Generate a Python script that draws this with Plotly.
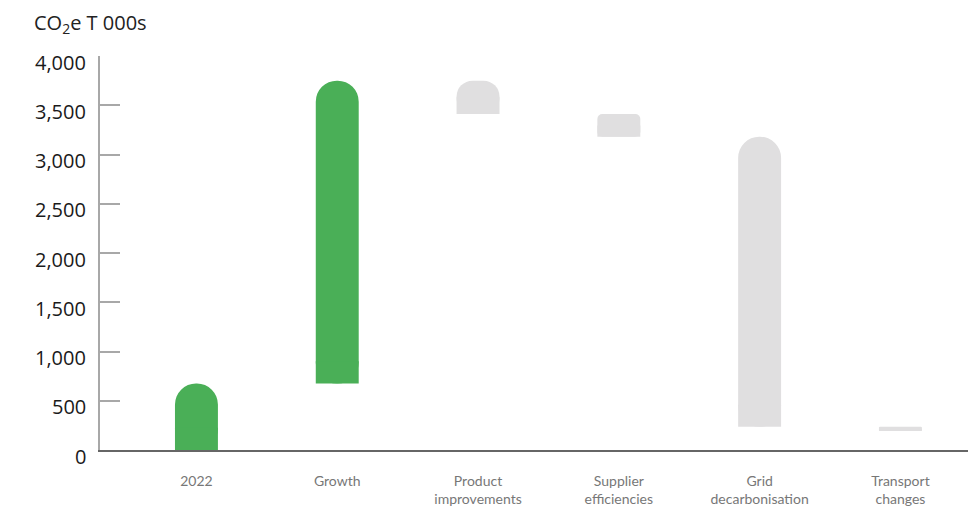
import plotly.graph_objects as go

categories = ["2022", "Growth", "Product<br>improvements", "Supplier<br>efficiencies",
              "Grid<br>decarbonisation", "Transport<br>changes"]
start_value = 675
deltas = [3075, -340, -230, -2945, -40]
bar_colors = ["#4aaf57", "#4aaf57", "#e0dfe0", "#e0dfe0", "#e0dfe0", "#e0dfe0"]
corner_radii = ["50%", "50%", "50%", 5, "50%", 2]
y_tick_vals = [0, 500, 1000, 1500, 2000, 2500, 3000, 3500, 4000]
y_tick_text = ["0", "500", "1,000", "1,500", "2,000", "2,500", "3,000", "3,500", "4,000"]

# waterfall: compute base / top for each bar
levels = [start_value]
for d in deltas:
    levels.append(levels[-1] + d)
bases = [0]
tops = [start_value]
for i, d in enumerate(deltas):
    a, b = levels[i], levels[i + 1]
    bases.append(min(a, b))
    tops.append(max(a, b))
lengths = [t - b for t, b in zip(tops, bases)]

BAR_W = 0.305
COVER_MAX = 225  # data units covering the rounded bottom corners
fig = go.Figure()
# rounded bars (plotly rounds both ends when a base is given)
for i, cat in enumerate(categories):
    fig.add_trace(go.Bar(
        x=[cat], y=[lengths[i]], base=[bases[i]],
        marker=dict(color=bar_colors[i], cornerradius=corner_radii[i], line=dict(width=0)),
        width=BAR_W, showlegend=False, hoverinfo="skip",
    ))
# square patches over the bottom ends so only the top ends are rounded
fig.add_trace(go.Bar(
    x=categories, y=[min(l / 2, COVER_MAX) for l in lengths], base=bases,
    marker=dict(color=bar_colors, cornerradius=0, line=dict(width=0)),
    width=BAR_W, showlegend=False, hoverinfo="skip",
))

annotations = [dict(
    text="CO<sub>2</sub>e T 000s", xref="paper", yref="paper",
    x=-0.078, y=1.0, yshift=16, xanchor="left", yanchor="bottom",
    showarrow=False, font=dict(family="Open Sans", size=20, color="#222222"),
)]
for v, t in zip(y_tick_vals, y_tick_text):
    annotations.append(dict(
        text=t, xref="paper", yref="y", x=0, y=v, xshift=-12, yshift=-6,
        xanchor="right", yanchor="middle", showarrow=False,
        font=dict(family="Open Sans", size=20, color="#1a1a1a"),
    ))

fig.update_layout(
    width=976, height=506,
    margin=dict(l=100, r=8, t=56, b=56),
    paper_bgcolor="white", plot_bgcolor="white",
    barmode="overlay",
    xaxis=dict(
        type="category", categoryarray=categories, categoryorder="array",
        range=[-0.685, 5.48], automargin=False,
        showline=True, linecolor="#666666", linewidth=1.5,
        showgrid=False, ticks="", zeroline=False,
        tickfont=dict(family="Lato", size=14, color="#777777"),
        ticklabelstandoff=17,
    ),
    yaxis=dict(
        range=[0, 4000], tickvals=y_tick_vals, automargin=False,
        showticklabels=False,
        showline=True, linecolor="#a8a8a8", linewidth=1.5,
        ticks="inside", ticklen=20, tickcolor="#a8a8a8", tickwidth=1.5,
        showgrid=False, zeroline=False,
    ),
    annotations=annotations,
)

fig.write_html("out.html", config={"displayModeBar": False},
               post_script="document.body.style.margin='0';")
